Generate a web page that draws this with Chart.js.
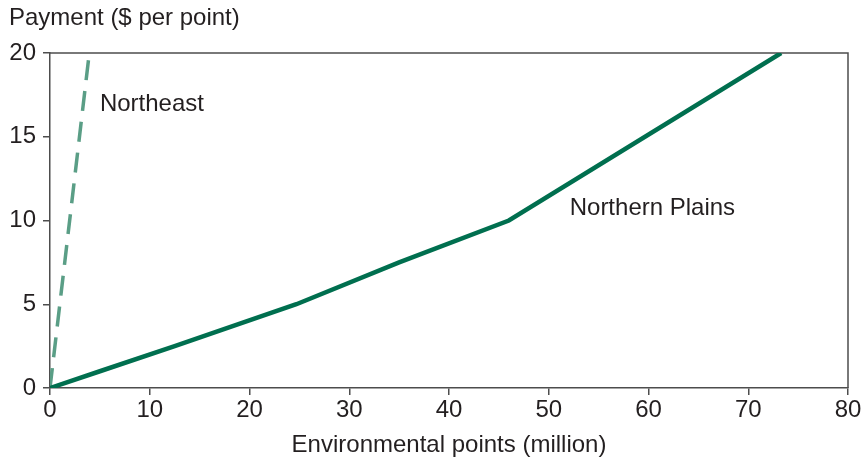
<!DOCTYPE html>
<html>
<head>
<meta charset="utf-8">
<title>Payment per environmental point</title>
<script src="https://cdn.jsdelivr.net/npm/chart.js/dist/chart.umd.min.js"></script>
<style>
  html, body { margin: 0; padding: 0; background: #fff; }
  #wrap { width: 861px; height: 463px; }
</style>
</head>
<body>
<div id="wrap"><canvas id="myChart" width="861" height="463"></canvas></div>
<script>
// data (x = million points, y = $ per point)
const plainsX = [0, 5, 12.5, 24.7, 35, 46, 73.3];
const plainsY = [0, 1, 2.5, 5, 7.5, 10, 20];
const northeastX = [0, 3.9];
const northeastY = [0, 19.8];
const xTicks = [0, 10, 20, 30, 40, 50, 60, 70, 80];
const yTicks = [0, 5, 10, 15, 20];

const axisColor = '#4d4d4d';
const font = { family: 'Liberation Sans, Arial, sans-serif', size: 24 };

function toPoints(xs, ys) {
    return xs.map((x, i) => ({ x: x, y: ys[i] }));
}

// frame lines on top + right, series labels, y axis title
const extras = {
    id: 'extras',
    beforeDatasetsDraw(chart) {
        const { ctx, chartArea: a } = chart;
        ctx.save();
        ctx.strokeStyle = axisColor;
        ctx.lineWidth = 1.5;
        ctx.beginPath();
        ctx.moveTo(a.left, a.top);
        ctx.lineTo(a.right, a.top);
        ctx.lineTo(a.right, a.bottom);
        ctx.stroke();
        ctx.restore();
    },
    afterDraw(chart) {
        const { ctx } = chart;
        const xs = chart.scales.x, ys = chart.scales.y;
        ctx.save();
        ctx.fillStyle = '#231f20';
        ctx.font = font.size + 'px ' + font.family;
        ctx.textBaseline = 'middle';
        ctx.textAlign = 'left';
        ctx.fillText('Northeast', xs.getPixelForValue(5), ys.getPixelForValue(16.95));
        ctx.fillText('Northern Plains', xs.getPixelForValue(52.1), ys.getPixelForValue(10.7));
        ctx.fillText('Payment ($ per point)', 9, 18);
        ctx.restore();
    }
};

new Chart(document.getElementById('myChart'), {
    type: 'scatter',
    data: {
        datasets: [{
            label: 'Northern Plains',
            data: toPoints(plainsX, plainsY),
            showLine: true,
            borderColor: '#006f4f',
            borderWidth: 4.5,
            pointRadius: 0,
            tension: 0
        }, {
            label: 'Northeast',
            data: toPoints(northeastX, northeastY),
            showLine: true,
            borderColor: '#5a9e86',
            borderWidth: 3.5,
            borderDash: [20, 11],
            pointRadius: 0
        }]
    },
    options: {
        responsive: false,
        animation: false,
        layout: { padding: { top: 53, right: 0, left: 0, bottom: 0 } },
        plugins: { legend: { display: false }, tooltip: { enabled: false } },
        scales: {
            x: {
                type: 'linear',
                min: 0, max: 80,
                afterBuildTicks(s) { s.ticks = xTicks.map(v => ({ value: v })); },
                afterFit(s) { s.height = 75; s.paddingRight = 13; },
                ticks: { color: '#231f20', font: font, padding: 1, maxRotation: 0 },
                grid: { drawOnChartArea: false, drawTicks: true, tickLength: 7, color: axisColor, lineWidth: 1.5 },
                border: { color: axisColor, width: 1.5 },
                title: { display: true, text: 'Environmental points (million)', color: '#231f20', font: font, padding: { top: 0, bottom: 3 } }
            },
            y: {
                min: 0, max: 20,
                afterBuildTicks(s) { s.ticks = yTicks.map(v => ({ value: v })); },
                afterFit(s) { s.width = 50; },
                ticks: { color: '#231f20', font: font, padding: 7 },
                grid: { drawOnChartArea: false, drawTicks: true, tickLength: 7, color: axisColor, lineWidth: 1.5 },
                border: { color: axisColor, width: 1.5 }
            }
        }
    },
    plugins: [extras]
});
</script>
</body>
</html>
